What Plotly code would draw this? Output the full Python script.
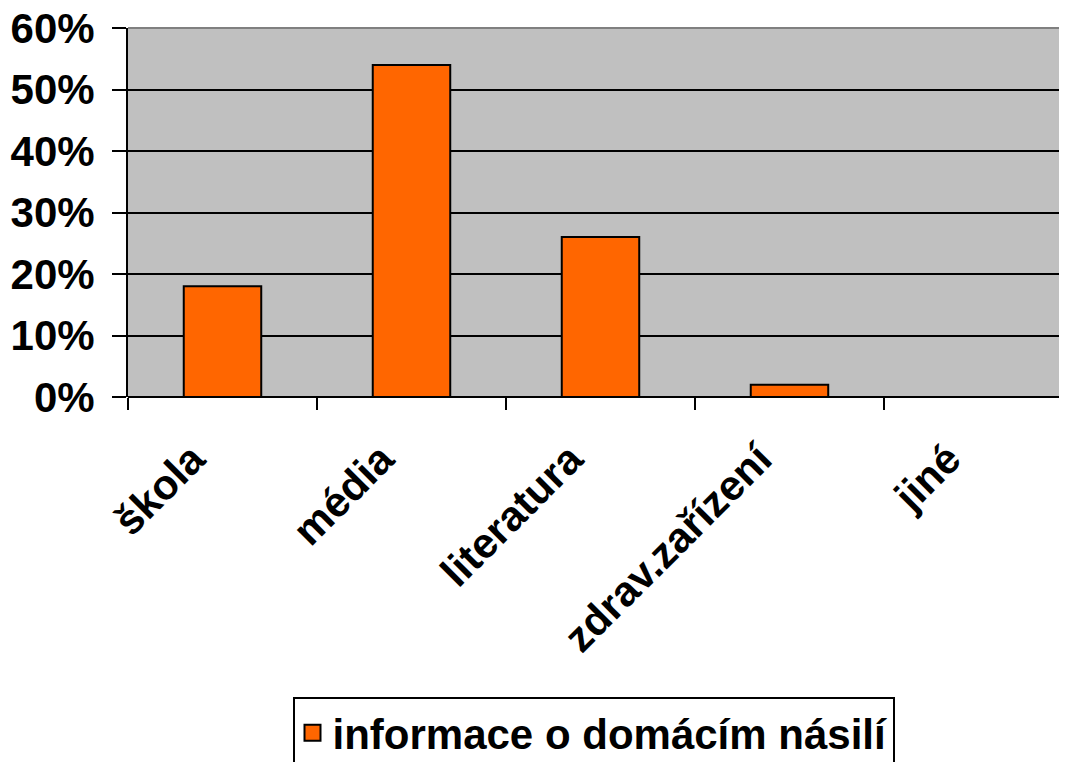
import plotly.graph_objects as go

categories = ["škola", "média", "literatura", "zdrav.zařízení", "jiné"]
values = [0.18, 0.54, 0.26, 0.02, 0.0]
series_name = "informace o domácím násilí"

bar_color = "#FF6600"
bold = dict(family="Liberation Sans, Arial, sans-serif", size=42, color="black", weight="bold")

fig = go.Figure(
    go.Bar(
        x=categories,
        y=values,
        name=series_name,
        width=0.41,
        marker=dict(color=bar_color, line=dict(color="black", width=2)),
        showlegend=False,
        legendgroup="s",
    )
)
# legend entry with a bigger swatch than the default bar icon
fig.add_trace(
    go.Scatter(
        x=[None],
        y=[None],
        mode="markers",
        name=series_name,
        legendgroup="s",
        marker=dict(symbol="square", size=22, color=bar_color, line=dict(color="black", width=2)),
    )
)

# page body adds an 8px margin, so the figure is sized to fit inside it
fig.update_layout(
    width=1051,
    height=754,
    margin=dict(l=120, r=0, t=20, b=365, autoexpand=False),
    paper_bgcolor="white",
    plot_bgcolor="#C0C0C0",
    font=bold,
    showlegend=True,
    legend=dict(
        x=0.5,
        xanchor="center",
        y=-0.813,
        yanchor="top",
        orientation="h",
        bordercolor="black",
        borderwidth=2,
        bgcolor="white",
        font=bold,
        itemsizing="trace",
        itemwidth=30,
    ),
    xaxis=dict(
        type="category",
        range=[-0.5, 4.426],
        tickangle=-45,
        tickson="boundaries",
        ticks="outside",
        ticklen=12,
        tickwidth=2,
        tickcolor="black",
        showgrid=False,
        showline=False,
        tickfont=bold,
        automargin=False,
        ticklabeloverflow="allow",
        ticklabelstandoff=28,
        ticklabelshift=-30,
    ),
    yaxis=dict(
        range=[0, 0.6],
        dtick=0.1,
        tickformat=".0%",
        ticks="outside",
        ticklen=14,
        tickwidth=2,
        tickcolor="black",
        showgrid=True,
        gridcolor="black",
        gridwidth=2,
        showline=True,
        linecolor="black",
        linewidth=2,
        zeroline=True,
        zerolinecolor="black",
        zerolinewidth=2,
        tickfont=bold,
        automargin=False,
        ticklabeloverflow="allow",
        ticklabelstandoff=9,
    ),
)

# gray frame along the top of the plot area
fig.add_shape(type="line", xref="paper", yref="paper", x0=0, x1=1, y0=1, y1=1,
              line=dict(color="#808080", width=2))

fig.write_html("out.html")
